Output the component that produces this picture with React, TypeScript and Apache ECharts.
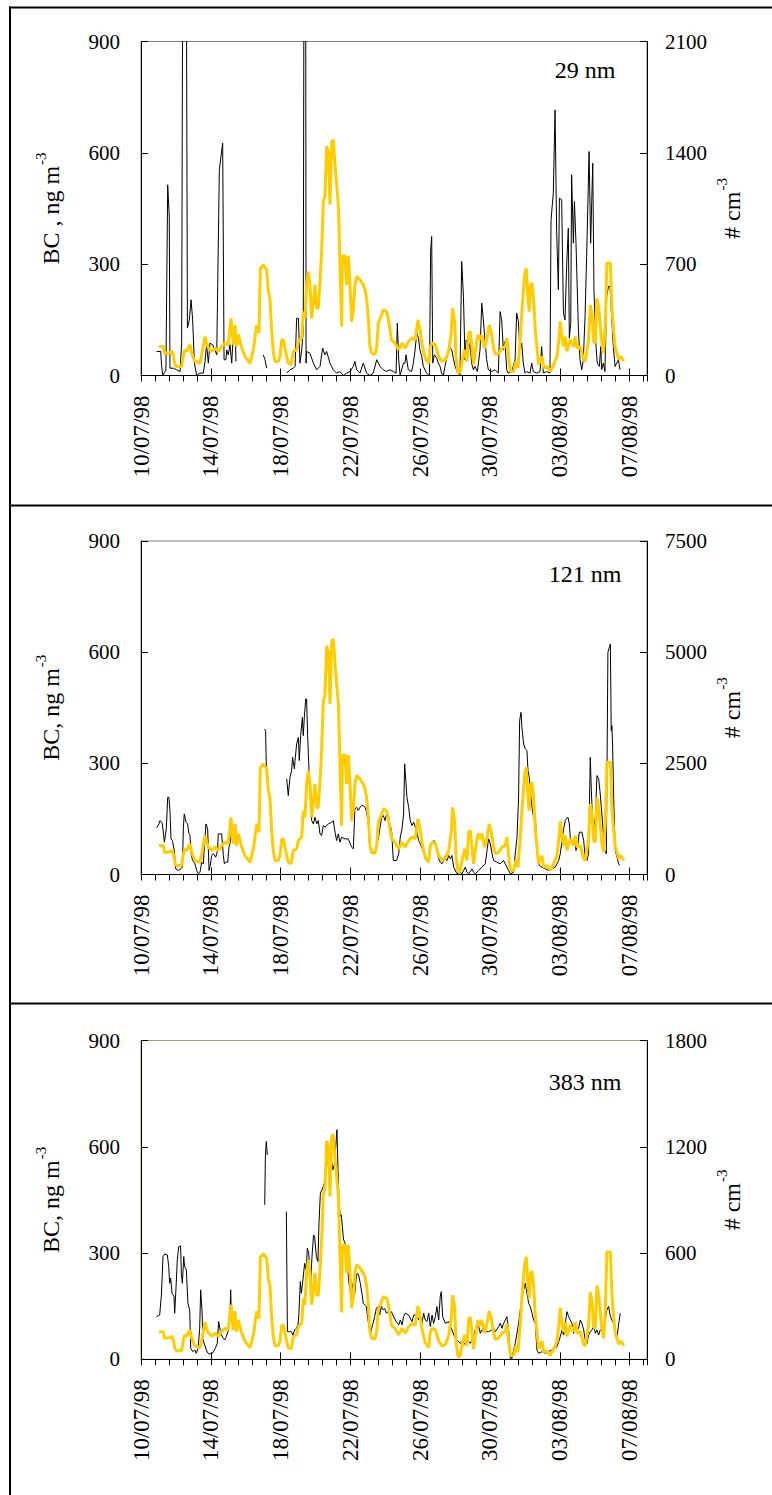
import React, { useEffect, useRef } from 'react';
import * as echarts from 'echarts';

const FONT = '"Liberation Serif", "Times New Roman", serif';

// x-axis tick labels (every 4 days from 10/07/98); x values are days since 10/07/98 00:00
const dateLabels = ['10/07/98', '14/07/98', '18/07/98', '22/07/98', '26/07/98', '30/07/98', '03/08/98', '07/08/98'];

const panelLabels = ['29 nm', '121 nm', '383 nm'];
const leftTitles = ['BC , ng m', 'BC, ng m', 'BC, ng m'];
const rightTitle = '# cm';
const titleSup = '-3';
const rightMax = [2100, 7500, 1800];
const rightStep = [700, 2500, 600];

// BC (ng m-3), yellow, same in the three panels
const bcTime = [
  1.03, 1.28, 1.34, 1.57, 1.76, 1.85, 1.95, 2.04, 2.33, 2.43,
  2.52, 2.62, 2.71, 2.81, 2.90, 3.09, 3.38, 3.48, 3.67, 3.76,
  3.86, 4.05, 4.24, 4.43, 4.62, 4.81, 5.00, 5.16, 5.29, 5.39,
  5.48, 5.58, 5.77, 5.96, 6.25, 6.44, 6.63, 6.76, 6.84, 7.01,
  7.20, 7.30, 7.39, 7.49, 7.58, 7.68, 7.87, 7.97, 8.06, 8.16,
  8.25, 8.35, 8.44, 8.60, 8.73, 8.92, 9.02, 9.21, 9.30, 9.40,
  9.49, 9.59, 9.68, 9.78, 9.88, 9.97, 10.07, 10.16, 10.26, 10.35,
  10.45, 10.54, 10.64, 10.74, 10.83, 10.93, 11.02, 11.12, 11.21, 11.31,
  11.40, 11.50, 11.54, 11.69, 11.79, 11.88, 11.98, 12.07, 12.17, 12.26,
  12.36, 12.55, 12.74, 12.84, 12.93, 13.03, 13.12, 13.22, 13.41, 13.51,
  13.60, 13.79, 13.89, 14.08, 14.17, 14.36, 14.56, 14.77, 14.96, 15.15,
  15.34, 15.53, 15.72, 15.87, 16.01, 16.10, 16.20, 16.29, 16.49, 16.58,
  16.68, 16.87, 17.06, 17.25, 17.44, 17.63, 17.78, 17.86, 17.98, 18.05,
  18.17, 18.30, 18.40, 18.55, 18.68, 18.78, 18.87, 18.97, 19.06, 19.16,
  19.31, 19.45, 19.54, 19.69, 19.83, 19.96, 20.08, 20.21, 20.31, 20.50,
  20.69, 20.88, 20.97, 21.07, 21.17, 21.36, 21.49, 21.60, 21.74, 21.83,
  21.99, 22.08, 22.18, 22.25, 22.33, 22.41, 22.50, 22.60, 22.69, 22.79,
  22.98, 23.08, 23.27, 23.46, 23.65, 23.84, 23.94, 24.03, 24.13, 24.22,
  24.32, 24.41, 24.60, 24.79, 24.89, 24.99, 25.18, 25.37, 25.46, 25.65,
  25.75, 25.85, 25.94, 26.04, 26.13, 26.23, 26.32, 26.42, 26.51, 26.61,
  26.70, 26.90, 26.99, 27.09, 27.18, 27.28, 27.38, 27.47, 27.57, 27.67,
];
const bcValue = [
  78, 78, 60, 60, 65, 56, 29, 24, 24, 56,
  69, 65, 74, 83, 60, 38, 33, 56, 105, 87,
  74, 65, 74, 65, 78, 87, 83, 154, 83, 136,
  78, 110, 74, 51, 33, 69, 136, 114, 289, 298,
  285, 226, 208, 118, 65, 38, 38, 51, 96, 96,
  74, 51, 33, 29, 65, 69, 92, 101, 172, 154,
  244, 280, 244, 154, 199, 244, 181, 181, 253, 334,
  469, 482, 617, 603, 460, 630, 635, 568, 518, 460,
  307, 132, 321, 323, 244, 323, 244, 145, 177, 244,
  267, 258, 244, 231, 208, 154, 78, 60, 57, 78,
  141, 163, 177, 172, 154, 96, 87, 69, 87, 74,
  92, 101, 96, 150, 119, 87, 65, 47, 33, 78,
  87, 83, 51, 38, 42, 65, 114, 181, 145, 51,
  6, 11, 38, 69, 38, 114, 119, 74, 29, 65,
  110, 96, 110, 74, 101, 136, 114, 74, 56, 60,
  74, 78, 101, 51, 11, 11, 38, 20, 101, 172,
  271, 289, 208, 172, 244, 249, 208, 119, 78, 29,
  51, 20, 24, 11, 29, 51, 92, 145, 101, 78,
  105, 65, 96, 78, 105, 74, 78, 42, 38, 96,
  190, 163, 92, 87, 208, 181, 136, 83, 60, 136,
  303, 303, 181, 119, 74, 60, 42, 51, 47, 38,
];

// 29 nm number concentration (# cm-3)
const n29Time = [
  0.90, 1.13, 1.17, 1.24, 1.43, 1.53, 1.62, 1.66, 1.85, 2.04,
  2.24, 2.33, 2.39, 2.60, 2.66, 2.77, 2.87, 2.96, 3.06, 3.19,
  3.38, 3.57, 3.67, 3.76, 3.86, 3.95, 4.11, 4.24, 4.34, 4.49,
  4.68, 4.76, 4.87, 4.91, 5.00, 5.10, 5.20, 5.29, 5.41, 5.44,
  5.50, 7.01, 7.11, 7.20, 7.30, 8.35, 8.54, 8.73, 8.83, 8.92,
  9.02, 9.11, 9.21, 9.30, 9.34, 9.44, 9.46, 9.49, 9.68, 9.88,
  10.07, 10.26, 10.41, 10.54, 10.64, 10.83, 11.02, 11.21, 11.40, 11.60,
  11.79, 11.98, 12.17, 12.26, 12.36, 12.55, 12.74, 12.93, 13.12, 13.31,
  13.51, 13.70, 13.89, 14.08, 14.27, 14.46, 14.62, 14.69, 14.77, 14.85,
  15.04, 15.13, 15.19, 15.32, 15.51, 15.61, 15.71, 15.80, 15.90, 15.99,
  16.09, 16.18, 16.37, 16.53, 16.60, 16.66, 16.72, 16.81, 16.95, 17.04,
  17.14, 17.23, 17.33, 17.42, 17.52, 17.67, 17.81, 17.90, 18.00, 18.13,
  18.28, 18.38, 18.48, 18.57, 18.63, 18.70, 18.78, 18.86, 18.95, 19.05,
  19.14, 19.28, 19.43, 19.53, 19.62, 19.72, 19.81, 19.91, 20.10, 20.29,
  20.48, 20.58, 20.67, 20.77, 20.86, 20.96, 21.05, 21.25, 21.44, 21.53,
  21.63, 21.72, 21.82, 21.91, 22.01, 22.10, 22.30, 22.39, 22.49, 22.68,
  22.87, 22.96, 23.06, 23.25, 23.44, 23.50, 23.63, 23.73, 23.82, 23.92,
  23.98, 24.11, 24.21, 24.30, 24.40, 24.49, 24.55, 24.63, 24.68, 24.78,
  24.84, 24.93, 25.07, 25.16, 25.26, 25.35, 25.45, 25.54, 25.68, 25.77,
  25.89, 25.96, 26.08, 26.15, 26.27, 26.35, 26.40, 26.50, 26.59, 26.69,
  26.79, 26.88, 26.98, 27.07, 27.17, 27.26, 27.36, 27.45,
];
const n29Value = [
  151, 151, 78, 0, 36, 1199, 1000, 46, 46, 36,
  25, 203, 2600, 2600, 298, 350, 476, 350, 78, 0,
  15, 15, 88, 193, 78, 203, 193, 161, 130, 1293,
  1461, 99, 99, 161, 130, 193, 78, 262, 256, 88,
  null, 130, 99, 46, null, 15, 36, 46, 57, 360,
  360, 78, 161, 287, 2600, 2600, 78, 151, 140, 78,
  36, 57, 172, 130, 151, 78, 36, 15, 25, 0,
  15, 25, 57, 88, 36, 15, 78, 15, 0, 15,
  99, 57, 36, 25, 36, 25, 15, 329, 99, 0,
  78, 78, 130, 36, 25, 78, 161, 266, 235, 161,
  119, 57, 15, 0, 790, 874, 78, 130, 109, 78,
  57, 15, 0, 57, 109, 182, 161, 109, 57, 25,
  0, 717, 497, 99, 224, 214, 161, 203, 78, 36,
  57, 25, 161, 455, 350, 214, 99, 36, 25, 36,
  15, 402, 350, 161, 214, 36, 15, 25, 99, 392,
  340, 161, 203, 78, 15, 25, 15, 78, 25, 15,
  25, 182, 15, 25, 15, 979, 1146, 1670, 916, 539,
  1115, 1105, 392, 350, 706, 926, 235, 329, 1262, 832,
  1094, 832, 287, 99, 36, 99, 371, 748, 1408, 832,
  1335, 539, 182, 78, 57, 182, 36, 78, 25, 497,
  560, 560, 350, 182, 57, 78, 99, 36,
];

// 121 nm number concentration (# cm-3)
const n121Time = [
  0.90, 1.03, 1.09, 1.22, 1.34, 1.45, 1.53, 1.60, 1.66, 1.72,
  1.80, 1.91, 1.99, 2.14, 2.29, 2.37, 2.43, 2.48, 2.58, 2.67,
  2.75, 2.81, 2.87, 2.96, 3.09, 3.19, 3.29, 3.38, 3.48, 3.57,
  3.67, 3.72, 3.82, 3.90, 3.97, 4.05, 4.15, 4.28, 4.39, 4.43,
  4.62, 4.72, 4.78, 4.85, 4.97, 5.04, 5.10, 5.20, 5.27, 5.35,
  7.07, 7.14, 7.18, 7.22, 7.30, 8.35, 8.44, 8.54, 8.63, 8.69,
  8.79, 8.83, 8.92, 9.02, 9.07, 9.15, 9.25, 9.30, 9.36, 9.44,
  9.49, 9.55, 9.63, 9.70, 9.78, 9.88, 9.97, 10.07, 10.16, 10.26,
  10.35, 10.45, 10.54, 10.74, 10.93, 11.02, 11.12, 11.21, 11.31, 11.40,
  11.50, 11.69, 11.88, 12.07, 12.17, 12.26, 12.36, 12.45, 12.55, 12.65,
  12.74, 12.84, 12.93, 13.03, 13.12, 13.22, 13.31, 13.41, 13.51, 13.60,
  13.79, 13.89, 13.98, 14.08, 14.17, 14.27, 14.36, 14.46, 14.65, 14.77,
  14.86, 14.96, 15.05, 15.11, 15.19, 15.24, 15.34, 15.43, 15.53, 15.63,
  15.72, 15.82, 15.91, 16.01, 16.20, 16.29, 16.39, 16.49, 16.58, 16.68,
  16.77, 16.87, 16.96, 17.06, 17.15, 17.25, 17.35, 17.44, 17.54, 17.63,
  17.73, 17.82, 17.92, 18.11, 18.30, 18.40, 18.49, 18.59, 18.68, 18.78,
  18.97, 19.06, 19.16, 19.35, 19.54, 19.73, 19.83, 19.92, 20.02, 20.12,
  20.21, 20.40, 20.59, 20.78, 20.97, 21.17, 21.36, 21.45, 21.55, 21.64,
  21.70, 21.78, 21.83, 21.93, 22.02, 22.12, 22.18, 22.25, 22.31, 22.41,
  22.50, 22.60, 22.66, 22.73, 22.83, 22.98, 23.17, 23.36, 23.55, 23.74,
  23.94, 24.03, 24.13, 24.22, 24.32, 24.37, 24.47, 24.55, 24.60, 24.70,
  24.79, 24.85, 24.93, 25.04, 25.12, 25.27, 25.37, 25.46, 25.56, 25.65,
  25.75, 25.81, 25.88, 25.94, 26.04, 26.13, 26.23, 26.32, 26.38, 26.46,
  26.51, 26.57, 26.67, 26.76, 26.90, 26.95, 26.99, 27.03, 27.09, 27.18,
  27.28, 27.38, 27.45,
];
const n121Value = [
  1049, 1138, 1213, 1153, 727, 1026, 1738, 1738, 1438, 801,
  764, 539, 127, 90, 127, 165, 1064, 1363, 1176, 1138,
  914, 876, 464, 315, 240, 90, 15, 52, 277, 240,
  839, 1138, 1026, 90, 202, 427, 464, 389, 539, 914,
  914, 427, 240, 277, 277, 614, 689, 989, 1101, null,
  3273, 3236, 2487, 2374, null, 2150, 1775, 2187, 2337, 2636,
  2374, 2562, 2936, 3086, 2562, 3123, 3535, 3123, 3535, 3947,
  3947, 3123, 2337, 2037, 1213, 1138, 1288, 1138, 1213, 914,
  876, 1101, 1064, 1138, 1176, 1213, 951, 764, 914, 727,
  839, 801, 801, 614, 577, 1476, 1513, 1438, 1513, 1550,
  1550, 1513, 1401, 1138, 614, 464, 502, 502, 689, 801,
  1288, 1326, 1213, 1363, 1251, 1138, 989, 315, 315, 464,
  839, 1026, 1363, 2487, 2037, 1738, 1513, 1213, 1101, 1176,
  1064, 951, 764, 689, 502, 352, 315, 352, 689, 727,
  764, 727, 539, 352, 277, 240, 315, 427, 315, 427,
  352, 427, 165, 15, 52, 15, 90, 165, 52, 15,
  127, 52, 15, 90, 165, 240, 539, 801, 689, 464,
  315, 277, 240, 315, 165, 15, 52, 464, 839, 1738,
  3460, 3648, 3311, 2936, 2824, 2786, 2337, 2187, 1887, 1513,
  1288, 1363, 764, 352, 202, 165, 127, 90, 127, 165,
  315, 464, 764, 1026, 1213, 1251, 1288, 1138, 839, 764,
  689, 839, 539, 689, 951, 951, 764, 389, 315, 464,
  2636, 1887, 1213, 989, 1288, 2225, 2150, 1813, 1513, 1138,
  839, 539, 464, 4996, 5183, 3236, 3348, 2861, 1738, 539,
  389, 240, 202,
];

// 383 nm number concentration (# cm-3)
const n383Time = [
  0.88, 1.07, 1.17, 1.26, 1.36, 1.51, 1.59, 1.64, 1.70, 1.78,
  1.89, 1.93, 2.02, 2.08, 2.16, 2.27, 2.31, 2.37, 2.45, 2.50,
  2.60, 2.69, 2.79, 2.85, 2.98, 3.08, 3.17, 3.27, 3.36, 3.42,
  3.50, 3.55, 3.65, 3.74, 3.84, 3.94, 4.13, 4.26, 4.37, 4.45,
  4.57, 4.70, 4.79, 4.89, 5.02, 5.10, 5.14, 5.18, 5.27, 5.35,
  7.09, 7.13, 7.18, 7.24, 7.30, 8.33, 8.39, 8.52, 8.62, 8.71,
  8.81, 8.90, 9.00, 9.05, 9.13, 9.19, 9.28, 9.38, 9.47, 9.53,
  9.61, 9.72, 9.80, 9.89, 9.95, 10.05, 10.14, 10.20, 10.28, 10.37,
  10.45, 10.53, 10.62, 10.72, 10.81, 10.91, 11.00, 11.10, 11.16, 11.23,
  11.29, 11.35, 11.42, 11.48, 11.54, 11.61, 11.67, 11.77, 11.82, 11.92,
  12.02, 12.09, 12.19, 12.24, 12.34, 12.40, 12.47, 12.57, 12.66, 12.74,
  12.82, 12.91, 13.01, 13.10, 13.16, 13.20, 13.30, 13.39, 13.49, 13.58,
  13.68, 13.77, 13.87, 13.96, 14.06, 14.15, 14.25, 14.35, 14.57, 14.77,
  14.86, 14.96, 15.05, 15.15, 15.34, 15.53, 15.63, 15.82, 15.91, 16.01,
  16.10, 16.20, 16.29, 16.39, 16.49, 16.58, 16.68, 16.77, 16.87, 16.96,
  17.06, 17.15, 17.21, 17.29, 17.44, 17.63, 17.82, 18.01, 18.11, 18.30,
  18.40, 18.49, 18.68, 18.87, 19.06, 19.16, 19.35, 19.45, 19.54, 19.73,
  19.92, 20.12, 20.21, 20.31, 20.50, 20.59, 20.69, 20.78, 20.88, 20.97,
  21.07, 21.17, 21.26, 21.36, 21.45, 21.55, 21.64, 21.74, 21.83, 21.93,
  22.02, 22.12, 22.22, 22.31, 22.41, 22.50, 22.60, 22.69, 22.79, 22.98,
  23.17, 23.36, 23.55, 23.74, 23.84, 23.94, 24.03, 24.13, 24.22, 24.32,
  24.41, 24.51, 24.60, 24.70, 24.79, 24.89, 24.99, 25.08, 25.18, 25.27,
  25.37, 25.46, 25.56, 25.65, 25.75, 25.85, 25.94, 26.04, 26.13, 26.23,
  26.32, 26.42, 26.51, 26.61, 26.70, 26.80, 26.90, 26.99, 27.09, 27.18,
  27.28, 27.38, 27.47,
];
const n383Value = [
  241, 250, 363, 580, 595, 589, 523, 429, 458, 373,
  354, 260, 429, 561, 636, 640, 486, 429, 580, 523,
  505, 316, 279, 62, 43, 53, 34, 62, 166, 392,
  269, 109, 81, 53, 34, 30, 38, 62, 90, 213,
  147, 119, 109, 128, 166, 250, 392, 241, 175, null,
  872, 1145, 1230, 1154, null, 834, 156, 156, 156, 137,
  166, 175, 194, 260, 439, 373, 448, 542, 505, 627,
  599, 429, 580, 702, 693, 580, 552, 768, 938, 957,
  975, 1004, 1088, 1126, 1032, 1126, 1070, 1107, 1201, 1296,
  1070, 891, 806, 815, 749, 674, 665, 618, 542, 429,
  373, 429, 354, 363, 467, 486, 476, 429, 373, 316,
  307, 298, 222, 166, 147, 166, 203, 241, 288, 298,
  250, 298, 279, 288, 260, 269, 260, 269, 222, 194,
  222, 194, 241, 260, 250, 213, 250, 250, 222, 241,
  203, 260, 222, 213, 260, 185, 250, 203, 241, 298,
  222, 354, 382, 241, 203, 213, 166, 119, 109, 90,
  100, 81, 109, 90, 128, 166, 185, 147, 166, 156,
  156, 166, 175, 156, 185, 203, 175, 203, 222, 241,
  166, 6, 6, 53, 90, 147, 203, 279, 345, 392,
  429, 373, 316, 298, 260, 222, 203, 53, 34, 43,
  34, 43, 53, 62, 72, 100, 128, 166, 137, 203,
  269, 241, 222, 203, 147, 203, 166, 175, 222, 203,
  166, 109, 90, 137, 156, 166, 185, 147, 166, 137,
  166, 175, 203, 222, 279, 298, 241, 222, 203, 147,
  128, 203, 260,
];

const numberTimes = [n29Time, n121Time, n383Time];
const numberValues = [n29Value, n121Value, n383Value];

function pairs(t: number[], v: (number | null)[]) {
  return t.map((x, k) => [x, v[k]]);
}

let measureCtx: CanvasRenderingContext2D | null = null;
function textWidth(text: string, font: string, fallbackEm: number, size: number) {
  try {
    if (!measureCtx) measureCtx = document.createElement('canvas').getContext('2d');
    if (measureCtx) {
      measureCtx.font = font;
      const w = measureCtx.measureText(text).width;
      if (w > 0) return w;
    }
  } catch (e) { /* ignore */ }
  return fallbackEm * size;
}

// rotated axis title with superscript, centred on cy
function rotatedTitle(base: string, baseX: number, cy: number) {
  const baseFont = `24px ${FONT}`;
  const supFont = `15px ${FONT}`;
  const wb = textWidth(base, baseFont, base.length * 0.45, 24);
  const ws = textWidth(titleSup, supFont, 0.83, 15);
  const total = wb + 1 + ws;
  const bottom = cy + total / 2; // start of text (screen bottom)
  return [
    {
      type: 'text', x: baseX, y: bottom - wb / 2, rotation: Math.PI / 2,
      style: { text: base, font: baseFont, align: 'center', verticalAlign: 'middle', fill: '#000' },
    },
    {
      type: 'text', x: baseX - 9.6, y: bottom - wb - 1, rotation: Math.PI / 2,
      style: { text: titleSup, font: supFont, align: 'left', verticalAlign: 'middle', fill: '#000' },
    },
  ];
}

function buildOption() {
  const gridTops = [41.5, 541, 1040.5];
  const gridHeights = [334, 333.5, 318.8];
  const labelY = [70, 574, 1082];
  const grids: any[] = [];
  const xAxes: any[] = [];
  const yAxes: any[] = [];
  const series: any[] = [];
  const graphic: any[] = [];
  const xFont = { fontFamily: FONT, fontSize: 23, color: '#000' };
  const yFont = { fontFamily: FONT, fontSize: 21, color: '#000' };

  for (let i = 0; i < 3; i++) {
    grids.push({
      left: 141, top: gridTops[i], width: 506, height: gridHeights[i],
      show: true, borderColor: i === 2 ? '#a39d7e' : '#808080', borderWidth: 1,
      backgroundColor: 'transparent',
    });
    xAxes.push({
      gridIndex: i, type: 'value', position: 'bottom', min: 0, max: 29, interval: 0.8,
      axisLine: { show: true, onZero: false, lineStyle: { color: '#000', width: 1 } },
      axisTick: { show: true, inside: false, length: 6, lineStyle: { color: '#000', width: 1 } },
      axisLabel: {
        show: true, rotate: 90, margin: 20, ...xFont,
        formatter: (v: number) => {
          const k = v / 4;
          const r = Math.round(k);
          return Math.abs(k - r) < 1e-6 && r < dateLabels.length ? dateLabels[r] : '';
        },
      },
      splitLine: { show: false },
    });
    xAxes.push({
      gridIndex: i, type: 'value', position: 'bottom', min: 0, max: 29, interval: 4,
      axisLine: { show: false },
      axisTick: { show: true, inside: true, length: 7, lineStyle: { color: '#000', width: 1 } },
      axisLabel: { show: false },
      splitLine: { show: false },
    });
    yAxes.push({
      gridIndex: i, type: 'value', position: 'left', min: 0, max: 900, interval: 300,
      axisLine: { show: true, onZero: false, lineStyle: { color: '#000', width: 1 } },
      axisTick: { show: true, inside: true, length: 7, lineStyle: { color: '#000' } },
      axisLabel: { margin: 21, ...yFont, formatter: (v: number) => String(v) },
      splitLine: { show: false },
    });
    yAxes.push({
      gridIndex: i, type: 'value', position: 'right', min: 0, max: rightMax[i], interval: rightStep[i],
      axisLine: { show: true, onZero: false, lineStyle: { color: '#000', width: 1 } },
      axisTick: { show: true, inside: true, length: 7, lineStyle: { color: '#000' } },
      axisLabel: { margin: 18, ...yFont, formatter: (v: number) => String(v) },
      splitLine: { show: false },
    });
    series.push({
      type: 'line', xAxisIndex: 2 * i, yAxisIndex: 2 * i + 1,
      data: pairs(numberTimes[i], numberValues[i]),
      showSymbol: false, symbol: 'none', connectNulls: false, clip: true,
      lineStyle: { color: '#000', width: 1 }, z: 3, silent: true,
    });
    series.push({
      type: 'line', xAxisIndex: 2 * i, yAxisIndex: 2 * i,
      data: pairs(bcTime, bcValue),
      showSymbol: false, symbol: 'none', clip: true,
      lineStyle: { color: '#FFCC00', width: 3 }, z: 4, silent: true,
    });

    const cy = gridTops[i] + gridHeights[i] / 2;
    graphic.push(...rotatedTitle(leftTitles[i], 50.5, cy));
    graphic.push(...rotatedTitle(rightTitle, 732, cy));
    graphic.push({
      type: 'text', x: 585, y: labelY[i],
      style: { text: panelLabels[i], font: `24px ${FONT}`, align: 'center', verticalAlign: 'middle', fill: '#000' },
    });
  }

  // panel frames
  graphic.push({ type: 'line', shape: { x1: 10, y1: 6.5, x2: 10, y2: 1495 }, style: { stroke: '#000', lineWidth: 2 } });
  graphic.push({ type: 'line', shape: { x1: 9, y1: 7.5, x2: 772, y2: 7.5 }, style: { stroke: '#000', lineWidth: 2 } });
  graphic.push({ type: 'line', shape: { x1: 9, y1: 505.5, x2: 772, y2: 505.5 }, style: { stroke: '#000', lineWidth: 2 } });
  graphic.push({ type: 'line', shape: { x1: 9, y1: 1003.5, x2: 772, y2: 1003.5 }, style: { stroke: '#000', lineWidth: 2 } });

  return {
    animation: false,
    backgroundColor: '#fff',
    grid: grids,
    xAxis: xAxes,
    yAxis: yAxes,
    series,
    graphic,
  };
}

export default function App() {
  const ref = useRef<HTMLDivElement>(null);
  useEffect(() => {
    document.body.style.margin = '0';
    document.body.style.overflow = 'hidden';
    const chart = echarts.init(ref.current as HTMLDivElement, null, { renderer: 'svg' });
    chart.setOption(buildOption() as any);
    return () => chart.dispose();
  }, []);
  return <div ref={ref} style={{ position: 'absolute', left: 0, top: 0, width: 772, height: 1495 }} />;
}
